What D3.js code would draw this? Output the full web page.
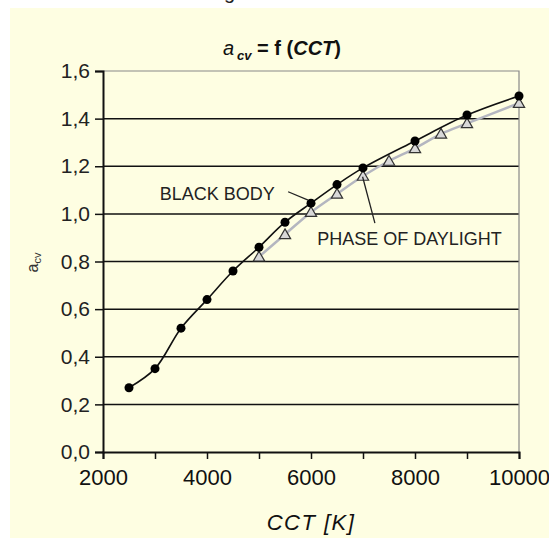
<!DOCTYPE html>
<html>
<head>
<meta charset="utf-8">
<script src="https://cdn.jsdelivr.net/npm/d3@7"></script>
<style>
  body { margin: 0; background: #fff; }
  svg { display: block; font-family: "Liberation Sans", Arial, sans-serif; }
</style>
</head>
<body>
<svg width="549" height="538"></svg>
<script>
// black body curve (circles)
let bb_cct = [2500, 3000, 3500, 4000, 4500, 5000, 5500, 6000, 6500, 7000, 8000, 9000, 10000];
let bb_acv = [0.27, 0.35, 0.52, 0.64, 0.76, 0.86, 0.965, 1.045, 1.123, 1.193, 1.306, 1.415, 1.495];

// phase of daylight curve (triangles)
let dl_cct = [5000, 5500, 6000, 6500, 7000, 7500, 8000, 8500, 9000, 10000];
let dl_acv = [0.82, 0.914, 1.007, 1.084, 1.159, 1.222, 1.275, 1.336, 1.38, 1.465];

let x_ticks = [2000, 3000, 4000, 5000, 6000, 7000, 8000, 9000, 10000];
let x_labels = [2000, 4000, 6000, 8000, 10000];
let y_ticks = [0, 0.2, 0.4, 0.6, 0.8, 1.0, 1.2, 1.4, 1.6];

// callouts: text anchor and leader line, in data units
let callout_text = ["BLACK BODY", "PHASE OF DAYLIGHT"];
let callout_pos = [[3090, 1.058], [6118, 0.869]];
let callout_line = [[[5560, 1.093], [5945, 1.058]], [[7229, 0.961], [6992, 1.156]]];

let svg = d3.select("svg");

let x = d3.scaleLinear().domain([2000, 10000]).range([103, 519]);
let y = d3.scaleLinear().domain([0, 1.6]).range([452, 71]);
let fmt = d3.format(".1f");

// backgrounds
svg.append("rect").attr("x", 10).attr("y", 8).attr("width", 539).attr("height", 530)
   .attr("fill", "#fefee2");

// cut-off caption above the chart
svg.append("text").attr("x", 224).attr("y", -1).attr("font-size", 20).attr("fill", "#222").text("g");

// gridlines
svg.append("g").selectAll("line")
  .data(y_ticks.slice(1, -1))
  .enter().append("line")
    .attr("x1", x(2000)).attr("x2", x(10000))
    .attr("y1", function(d) { return y(d); })
    .attr("y2", function(d) { return y(d); })
    .attr("stroke", "#111").attr("stroke-width", 1.5);

// top / right frame
svg.append("path")
  .attr("d", "M" + x(2000) + "," + y(1.6) + "H" + x(10000) + "V" + y(0))
  .attr("fill", "none").attr("stroke", "#888").attr("stroke-width", 1.2);

// axes
let xAxis = d3.axisBottom(x).tickValues(x_ticks).tickSize(7)
              .tickFormat(function(d) { return x_labels.indexOf(d) >= 0 ? d : ""; });
let gx = svg.append("g").attr("transform", "translate(0," + y(0) + ")").call(xAxis);
gx.select(".domain").attr("stroke", "#111").attr("stroke-width", 2);
gx.selectAll(".tick line").attr("stroke", "#111").attr("stroke-width", 1.5);
gx.selectAll(".tick text").attr("font-size", 22).attr("fill", "#111")
  .attr("font-family", "Liberation Sans, Arial, sans-serif").attr("dy", "1.05em");

let yAxis = d3.axisLeft(y).tickValues(y_ticks).tickSize(8)
              .tickFormat(function(d) { return fmt(d).replace(".", ","); });
let gy = svg.append("g").attr("transform", "translate(" + x(2000) + ",0)").call(yAxis);
gy.select(".domain").attr("stroke", "#111").attr("stroke-width", 2);
gy.selectAll(".tick line").attr("stroke", "#111").attr("stroke-width", 1.5);
gy.selectAll(".tick text").attr("font-size", 21).attr("fill", "#222")
  .attr("font-family", "Liberation Sans, Arial, sans-serif").attr("x", -13);

// title
let title = svg.append("text").attr("x", 282).attr("y", 55)
  .attr("text-anchor", "middle").attr("font-size", 20).attr("fill", "#111");
title.append("tspan").attr("font-style", "italic").text("a");
title.append("tspan").attr("font-style", "italic").attr("font-weight", "bold")
  .attr("font-size", 13).attr("dy", 5).attr("dx", 3).text("cv");
title.append("tspan").attr("font-weight", "bold").attr("dy", -5).text(" = f (");
title.append("tspan").attr("font-weight", "bold").attr("font-style", "italic").text("CCT");
title.append("tspan").attr("font-weight", "bold").text(")");

// axis titles
let ylab = svg.append("text")
  .attr("transform", "translate(38," + (y(0.8) + 1) + ") rotate(-90)")
  .attr("text-anchor", "middle").attr("font-size", 16).attr("fill", "#333");
ylab.append("tspan").text("a");
ylab.append("tspan").attr("font-size", 11).attr("dy", 3).text("cv");

svg.append("text").attr("x", 311).attr("y", 530)
  .attr("text-anchor", "middle").attr("font-size", 22).attr("font-style", "italic")
  .attr("letter-spacing", 1.5).attr("fill", "#111").text("CCT [K]");

// series
let dl = dl_cct.map(function(d, i) { return [d, dl_acv[i]]; });
let bb = bb_cct.map(function(d, i) { return [d, bb_acv[i]]; });

let line = d3.line()
  .x(function(d) { return x(d[0]); })
  .y(function(d) { return y(d[1]); })
  .curve(d3.curveCatmullRom.alpha(0.5));

svg.append("path").datum(dl).attr("d", line)
  .attr("fill", "none").attr("stroke", "#b4b6c0").attr("stroke-width", 2.5);

svg.append("g").selectAll("path")
  .data(dl)
  .enter().append("path")
    .attr("d", d3.symbol().type(d3.symbolTriangle).size(55))
    .attr("transform", function(d) { return "translate(" + x(d[0]) + "," + (y(d[1]) + 1) + ")"; })
    .attr("fill", "#d8d8d8").attr("stroke", "#333").attr("stroke-width", 1.2);

svg.append("path").datum(bb).attr("d", line)
  .attr("fill", "none").attr("stroke", "#111").attr("stroke-width", 1.6);

svg.append("g").selectAll("circle")
  .data(bb)
  .enter().append("circle")
    .attr("cx", function(d) { return x(d[0]); })
    .attr("cy", function(d) { return y(d[1]); })
    .attr("r", 4.5)
    .attr("fill", "#000");

// callouts
svg.append("g").selectAll("line")
  .data(callout_line)
  .enter().append("line")
    .attr("x1", function(d) { return x(d[0][0]); })
    .attr("y1", function(d) { return y(d[0][1]); })
    .attr("x2", function(d) { return x(d[1][0]); })
    .attr("y2", function(d) { return y(d[1][1]); })
    .attr("stroke", "#222").attr("stroke-width", 1.3);

svg.append("g").selectAll("text")
  .data(callout_text)
  .enter().append("text")
    .attr("x", function(d, i) { return x(callout_pos[i][0]); })
    .attr("y", function(d, i) { return y(callout_pos[i][1]); })
    .attr("font-size", 18).attr("fill", "#222")
    .text(function(d) { return d; });
</script>
</body>
</html>
